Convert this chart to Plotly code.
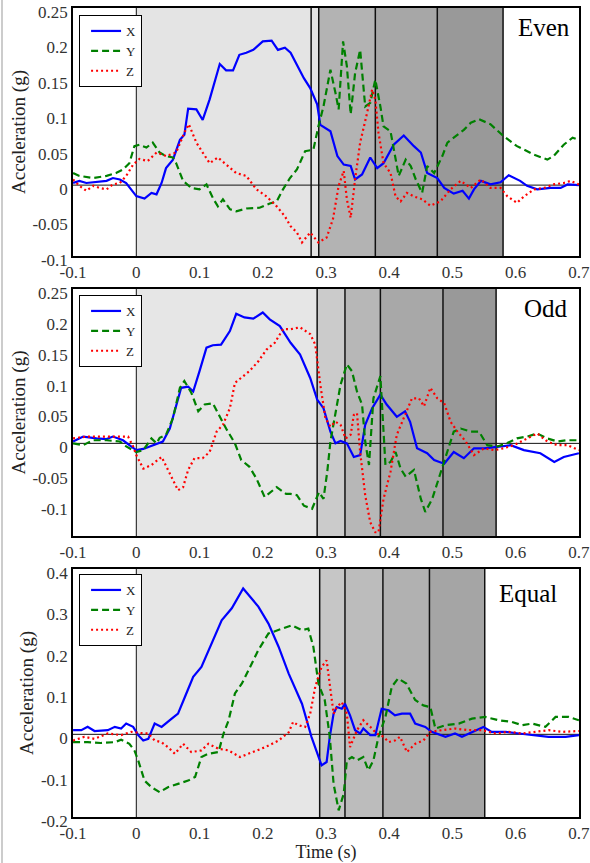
import plotly.graph_objects as go

# ---------------- data ----------------
# Panel "Even"
even_x_t = [-0.1,-0.09,-0.079,-0.063,-0.047,-0.037,-0.026,-0.016,-0.008,0,0.013,0.024,0.032,0.04,0.047,0.058,0.069,0.076,0.082,0.095,0.105,0.116,0.132,0.142,0.153,0.163,0.174,0.185,0.2,0.214,0.224,0.235,0.244,0.254,0.265,0.275,0.286,0.291,0.307,0.318,0.328,0.339,0.346,0.357,0.37,0.381,0.391,0.407,0.423,0.439,0.45,0.46,0.476,0.487,0.502,0.516,0.526,0.534,0.545,0.56,0.576,0.589,0.607,0.618,0.634,0.655,0.671,0.682,0.7]
even_x_v = [0.003,0.006,0.003,0.004,0.006,0.010,0.008,0.003,-0.006,-0.0155,-0.019,-0.011,-0.013,0.003,0.024,0.036,0.064,0.071,0.108,0.107,0.092,0.121,0.171,0.162,0.162,0.184,0.187,0.191,0.203,0.204,0.191,0.194,0.187,0.170,0.151,0.137,0.114,0.085,0.076,0.041,0.029,0.027,0.008,0.015,0.039,0.024,0.031,0.057,0.070,0.055,0.046,0.017,0.010,-0.004,-0.012,-0.008,-0.019,-0.006,0.006,0.001,0.004,0.014,0.006,-0.001,-0.006,-0.004,-0.004,0.001,0.0]
even_y_t = [-0.1,-0.09,-0.068,-0.047,-0.032,-0.021,-0.011,-0.003,0.005,0.016,0.026,0.037,0.047,0.058,0.063,0.074,0.087,0.1,0.111,0.121,0.129,0.137,0.148,0.158,0.174,0.195,0.211,0.222,0.232,0.243,0.254,0.267,0.28,0.288,0.296,0.307,0.315,0.32,0.327,0.333,0.339,0.346,0.354,0.362,0.37,0.378,0.386,0.391,0.402,0.407,0.415,0.426,0.434,0.442,0.452,0.46,0.471,0.484,0.492,0.502,0.518,0.529,0.542,0.56,0.581,0.602,0.629,0.65,0.66,0.676,0.69,0.7]
even_y_v = [0.017,0.013,0.010,0.013,0.017,0.022,0.031,0.055,0.057,0.053,0.060,0.046,0.041,0.039,0.031,0.006,-0.004,-0.006,0.001,-0.018,-0.030,-0.020,-0.034,-0.037,-0.033,-0.032,-0.026,-0.023,-0.006,0.010,0.022,0.048,0.050,0.083,0.111,0.163,0.130,0.107,0.203,0.168,0.100,0.158,0.191,0.111,0.116,0.149,0.111,0.083,0.076,0.050,0.013,0.036,0.027,0.008,-0.011,0.027,0.017,0.041,0.060,0.067,0.078,0.088,0.093,0.086,0.069,0.055,0.043,0.036,0.041,0.057,0.067,0.064]
even_z_t = [-0.1,-0.09,-0.079,-0.068,-0.058,-0.047,-0.037,-0.026,-0.016,-0.005,0.005,0.018,0.032,0.047,0.063,0.076,0.083,0.095,0.105,0.116,0.129,0.142,0.158,0.174,0.19,0.206,0.222,0.235,0.244,0.254,0.262,0.275,0.288,0.301,0.311,0.32,0.328,0.333,0.339,0.346,0.354,0.365,0.373,0.378,0.383,0.391,0.402,0.41,0.418,0.428,0.439,0.452,0.465,0.481,0.497,0.513,0.529,0.545,0.56,0.576,0.587,0.602,0.613,0.629,0.645,0.66,0.676,0.687,0.7]
even_z_v = [0.008,-0.001,-0.008,-0.001,-0.004,-0.006,0.001,0.003,0.013,0.029,0.037,0.034,0.046,0.041,0.046,0.074,0.086,0.060,0.046,0.031,0.039,0.029,0.017,0.013,-0.006,-0.016,-0.030,-0.044,-0.058,-0.067,-0.081,-0.067,-0.081,-0.074,-0.048,-0.001,0.020,-0.020,-0.046,0.008,0.060,0.102,0.135,0.121,0.074,0.031,0.017,-0.016,-0.023,-0.011,-0.016,-0.020,-0.029,-0.023,-0.006,0.006,-0.004,0.008,-0.004,-0.004,-0.016,-0.025,-0.016,-0.006,-0.004,0.001,0.003,0.006,0.001]

# Panel "Odd"
odd_x_t = [-0.1,-0.084,-0.063,-0.047,-0.037,-0.021,-0.011,0,0.011,0.026,0.042,0.053,0.063,0.071,0.082,0.09,0.1,0.111,0.121,0.134,0.148,0.158,0.171,0.185,0.2,0.211,0.227,0.237,0.244,0.259,0.275,0.286,0.296,0.307,0.315,0.323,0.333,0.344,0.354,0.362,0.373,0.386,0.396,0.412,0.425,0.433,0.444,0.46,0.471,0.487,0.502,0.518,0.534,0.55,0.571,0.592,0.613,0.639,0.661,0.676,0.7]
odd_x_v = [0.003,0.011,0.008,0.007,0.011,0.005,-0.003,-0.011,-0.009,-0.003,0.003,0.024,0.063,0.090,0.092,0.084,0.117,0.155,0.159,0.160,0.182,0.210,0.204,0.202,0.212,0.201,0.190,0.174,0.163,0.144,0.106,0.071,0.057,0.019,0.0,0.004,0.0,-0.022,-0.019,0.030,0.057,0.079,0.063,0.043,0.052,0.035,-0.008,-0.016,-0.027,-0.033,-0.014,-0.024,-0.008,-0.008,-0.005,-0.003,-0.011,-0.016,-0.030,-0.022,-0.016]
odd_y_t = [-0.1,-0.084,-0.069,-0.047,-0.026,-0.016,0,0.011,0.024,0.032,0.037,0.047,0.058,0.069,0.076,0.087,0.098,0.108,0.121,0.132,0.142,0.156,0.166,0.179,0.19,0.203,0.222,0.237,0.244,0.254,0.265,0.278,0.289,0.296,0.302,0.307,0.315,0.323,0.333,0.341,0.349,0.357,0.362,0.368,0.375,0.386,0.394,0.402,0.41,0.418,0.426,0.439,0.45,0.457,0.468,0.478,0.489,0.502,0.513,0.529,0.542,0.555,0.571,0.586,0.602,0.618,0.634,0.65,0.666,0.681,0.7]
odd_y_v = [0.0,-0.003,0.005,0.005,0.003,-0.005,-0.014,-0.011,0.008,0.0,0.009,0.014,0.041,0.090,0.101,0.082,0.052,0.063,0.065,0.043,0.024,0.0,-0.027,-0.038,-0.057,-0.087,-0.071,-0.082,-0.082,-0.084,-0.101,-0.106,-0.079,-0.090,-0.046,0.003,0.052,0.095,0.128,0.117,0.084,0.063,0.003,-0.035,0.073,0.109,-0.035,-0.030,-0.014,-0.041,-0.054,-0.043,-0.090,-0.111,-0.090,-0.057,-0.024,0.019,0.024,0.019,0.019,-0.003,-0.005,0.0,0.008,0.011,0.016,0.008,0.003,0.005,0.005]
odd_z_t = [-0.1,-0.079,-0.058,-0.037,-0.013,-0.005,0,0.011,0.024,0.04,0.053,0.066,0.074,0.082,0.092,0.105,0.116,0.127,0.137,0.148,0.156,0.166,0.179,0.193,0.206,0.219,0.232,0.244,0.259,0.275,0.283,0.291,0.299,0.307,0.315,0.323,0.331,0.339,0.344,0.349,0.354,0.362,0.37,0.378,0.383,0.391,0.402,0.412,0.425,0.436,0.447,0.455,0.465,0.476,0.487,0.497,0.508,0.521,0.534,0.55,0.566,0.581,0.597,0.613,0.634,0.65,0.666,0.682,0.7]
odd_z_v = [0.008,0.011,0.011,0.011,0.011,-0.005,-0.019,-0.041,-0.035,-0.022,-0.049,-0.076,-0.071,-0.043,-0.024,-0.024,-0.014,0.019,0.030,0.057,0.098,0.106,0.117,0.133,0.152,0.163,0.185,0.185,0.188,0.177,0.160,0.095,0.041,0.027,0.035,0.030,0.008,0.014,0.046,0.049,-0.014,-0.084,-0.128,-0.144,-0.144,-0.090,-0.046,0.014,0.046,0.073,0.073,0.060,0.090,0.073,0.065,0.035,0.019,0.003,-0.019,-0.008,-0.011,-0.008,-0.003,0.005,0.016,0.003,-0.003,-0.003,-0.011]

# Panel "Equal"
equal_x_t = [-0.1,-0.087,-0.077,-0.066,-0.045,-0.034,-0.024,-0.016,-0.005,0.003,0.011,0.019,0.029,0.04,0.056,0.066,0.077,0.09,0.103,0.119,0.135,0.151,0.161,0.169,0.18,0.193,0.209,0.225,0.241,0.262,0.277,0.288,0.293,0.301,0.306,0.312,0.317,0.325,0.33,0.338,0.346,0.354,0.359,0.37,0.378,0.388,0.399,0.409,0.42,0.433,0.441,0.457,0.467,0.489,0.504,0.515,0.531,0.549,0.562,0.584,0.605,0.627,0.652,0.679,0.7]
equal_x_v = [0.010,0.010,0.018,0.008,0.010,0.018,0.014,0.026,0.018,-0.002,-0.015,-0.011,0.026,0.018,0.038,0.050,0.091,0.139,0.163,0.220,0.276,0.305,0.333,0.353,0.333,0.309,0.268,0.212,0.147,0.074,-0.006,-0.055,-0.075,-0.067,-0.006,0.050,0.066,0.062,0.074,0.046,0.010,0.002,0.014,-0.002,-0.002,0.062,0.058,0.046,0.050,0.050,0.026,0.018,0.006,-0.006,0.002,-0.006,0.006,0.018,0.006,0.006,0.002,-0.002,-0.006,-0.006,-0.002]
equal_y_t = [-0.1,-0.077,-0.056,-0.034,-0.024,-0.011,-0.003,0.003,0.013,0.024,0.037,0.05,0.066,0.082,0.093,0.103,0.114,0.13,0.138,0.146,0.156,0.167,0.18,0.193,0.209,0.225,0.246,0.262,0.272,0.28,0.288,0.298,0.306,0.312,0.32,0.328,0.333,0.341,0.349,0.359,0.367,0.375,0.383,0.394,0.404,0.414,0.427,0.441,0.454,0.465,0.473,0.489,0.51,0.531,0.552,0.573,0.594,0.61,0.626,0.647,0.663,0.684,0.7]
equal_y_v = [-0.019,-0.019,-0.021,-0.019,-0.013,-0.023,-0.039,-0.063,-0.112,-0.128,-0.140,-0.128,-0.120,-0.112,-0.103,-0.055,-0.047,-0.043,0.002,0.034,0.099,0.123,0.163,0.204,0.244,0.252,0.264,0.252,0.256,0.212,0.123,0.083,-0.006,-0.120,-0.184,-0.144,-0.063,-0.055,-0.063,-0.055,-0.087,-0.063,-0.006,0.042,0.115,0.135,0.123,0.083,0.070,0.066,0.014,0.022,0.026,0.038,0.042,0.034,0.030,0.022,0.026,0.018,0.042,0.042,0.034]
equal_z_t = [-0.1,-0.082,-0.066,-0.045,-0.024,-0.008,0.008,0.019,0.029,0.04,0.05,0.061,0.074,0.087,0.103,0.114,0.13,0.146,0.164,0.183,0.204,0.225,0.241,0.248,0.256,0.267,0.275,0.283,0.293,0.301,0.306,0.312,0.317,0.325,0.333,0.338,0.349,0.359,0.37,0.38,0.391,0.399,0.409,0.417,0.428,0.441,0.454,0.465,0.483,0.504,0.525,0.547,0.568,0.589,0.61,0.631,0.652,0.674,0.7]
equal_z_v = [-0.015,-0.006,-0.011,0.002,-0.002,0.006,0.003,0.002,-0.015,-0.019,-0.031,-0.047,-0.023,-0.043,-0.039,-0.023,-0.035,-0.039,-0.055,-0.043,-0.031,-0.015,0.005,0.030,0.022,0.018,0.050,0.115,0.163,0.179,0.115,0.050,0.066,0.078,0.050,-0.031,0.010,0.034,0.018,0.002,-0.006,-0.019,-0.015,-0.006,-0.043,-0.023,-0.015,0.006,0.010,0.014,0.010,0.010,0.002,0.006,0.002,0.006,0.010,0.006,0.008]

# Phase boundaries (s) and shading for each panel
even_bounds = [0, 0.2765, 0.2885, 0.378, 0.476, 0.58]
even_fills = ["#e4e4e4", "#e4e4e4", "#b3b3b3", "#a7a7a7", "#999999"]
odd_bounds = [0, 0.286, 0.33, 0.386, 0.485, 0.569]
odd_fills = ["#e6e6e6", "#cbcbcb", "#b7b7b7", "#a8a8a8", "#999999"]
equal_bounds = [0, 0.29, 0.33, 0.39, 0.4636, 0.551]
equal_fills = ["#e6e6e6", "#c6c6c6", "#bcbcbc", "#b1b1b1", "#a5a5a5"]

x_ticks = [-0.1, 0, 0.1, 0.2, 0.3, 0.4, 0.5, 0.6, 0.7]
x_ticktext = ["-0.1", "0", "0.1", "0.2", "0.3", "0.4", "0.5", "0.6", "0.7"]
even_yticks = [-0.1, -0.05, 0, 0.05, 0.1, 0.15, 0.2, 0.25]
even_yticktext = ["-0.1", "-0.05", "0", "0.05", "0.1", "0.15", "0.2", "0.25"]
odd_yticks = [-0.1, -0.05, 0, 0.05, 0.1, 0.15, 0.2, 0.25]
odd_yticktext = ["-0.1", "-0.05", "0", "0.05", "0.1", "0.15", "0.2", "0.25"]
equal_yticks = [-0.2, -0.1, 0, 0.1, 0.2, 0.3, 0.4]
equal_yticktext = ["-0.2", "-0.1", "0", "0.1", "0.2", "0.3", "0.4"]

# ---------------- figure ----------------
W, H = 590, 863
ML, MR, MT, MB = 73, 11, 8, 46
PH = H - MT - MB
SERIF = "Liberation Serif"
EPS = 1e-4

def ydom(top_px, bot_px):
    return [(H - MB - bot_px) / PH, (H - MB - top_px) / PH]

panels = [
    dict(name="Even", dom=ydom(8, 256), rng=[-0.1, 0.25], yt=even_yticks, ytt=even_yticktext,
         bounds=even_bounds, fills=even_fills, label_x=0.986, label_y=0.92, leg_top=15,
         X=(even_x_t, even_x_v), Y=(even_y_t, even_y_v), Z=(even_z_t, even_z_v)),
    dict(name="Odd", dom=ydom(289, 536), rng=[-0.15, 0.25], yt=odd_yticks, ytt=odd_yticktext,
         bounds=odd_bounds, fills=odd_fills, label_x=0.982, label_y=0.92, leg_top=295,
         X=(odd_x_t, odd_x_v), Y=(odd_y_t, odd_y_v), Z=(odd_z_t, odd_z_v)),
    dict(name="Equal", dom=ydom(569, 817), rng=[-0.2, 0.4], yt=equal_yticks, ytt=equal_yticktext,
         bounds=equal_bounds, fills=equal_fills, label_x=0.961, label_y=0.9, leg_top=574,
         X=(equal_x_t, equal_x_v), Y=(equal_y_t, equal_y_v), Z=(equal_z_t, equal_z_v)),
]

styles = {
    "X": dict(color="#0000ff", width=2.2, dash="solid"),
    "Y": dict(color="#008000", width=2.2, dash="7px,4px"),
    "Z": dict(color="#ff0000", width=2.2, dash="2px,3px"),
}

fig = go.Figure()
shapes = []
annotations = []
layout = dict(
    template="none",
    width=W, height=H,
    margin=dict(l=ML, r=MR, t=MT, b=MB, autoexpand=False),
    paper_bgcolor="white", plot_bgcolor="white",
    font=dict(family=SERIF, size=16, color="#222"),
    showlegend=True,
)

TICKFONT = dict(family=SERIF, size=17, color="#333")
TITLEFONT = dict(family=SERIF, size=19, color="#222")

for i, p in enumerate(panels, start=1):
    xa = "x" if i == 1 else f"x{i}"
    ya = "y" if i == 1 else f"y{i}"
    leg = "legend" if i == 1 else f"legend{i}"
    for key in ["X", "Y", "Z"]:
        t, v = p[key]
        fig.add_trace(go.Scatter(x=t, y=v, mode="lines", name=key, xaxis=xa, yaxis=ya,
                                 legend=leg, line=styles[key]))
    # shaded phases
    b = p["bounds"]
    for k in range(len(b) - 1):
        shapes.append(dict(type="rect", xref=xa, yref=f"{ya} domain", x0=b[k], x1=b[k + 1],
                           y0=0, y1=1, fillcolor=p["fills"][k], line=dict(width=0), layer="below"))
    for k, bx in enumerate(b):
        shapes.append(dict(type="line", xref=xa, yref=f"{ya} domain", x0=bx, x1=bx, y0=0, y1=1,
                           line=dict(color="#111", width=1 if k == 0 else 1.5), layer="below"))
    shapes.append(dict(type="line", xref=f"{xa} domain", yref=ya, x0=0, x1=1, y0=0, y1=0,
                       line=dict(color="#111", width=1), layer="below"))

    xaxis = dict(domain=[0, 1], range=[-0.1 - EPS, 0.7 + EPS], anchor=ya, tickvals=x_ticks,
                 ticktext=x_ticktext, automargin=False, ticklabeloverflow="allow",
                 showgrid=False, zeroline=False, showline=True, mirror=True, linecolor="black",
                 linewidth=1.5, ticks="", tickfont=TICKFONT)
    yaxis = dict(domain=p["dom"], range=[p["rng"][0] - EPS, p["rng"][1] + EPS], anchor=xa,
                 tickvals=p["yt"], ticktext=p["ytt"], automargin=False, ticklabeloverflow="allow",
                 ticklabelshift=4,
                 showgrid=False, zeroline=False, showline=True, mirror=True, linecolor="black",
                 linewidth=1.5, ticks="", tickfont=TICKFONT,
                 title=dict(text="Acceleration (g)", font=TITLEFONT, standoff=2))
    if i == 3:
        xaxis["title"] = dict(text="Time (s)", font=dict(family=SERIF, size=18, color="#222"),
                              standoff=4)
    layout["xaxis" if i == 1 else f"xaxis{i}"] = xaxis
    layout["yaxis" if i == 1 else f"yaxis{i}"] = yaxis

    layout[leg] = dict(x=0.012, y=(H - MB - p["leg_top"]) / PH, xanchor="left", yanchor="top",
                       bgcolor="white", bordercolor="black", borderwidth=1,
                       font=dict(family=SERIF, size=13, color="#222"),
                       tracegroupgap=0, itemwidth=30, indentation=6, entrywidth=70)

    annotations.append(dict(text=p["name"], xref=f"{xa} domain", yref=f"{ya} domain",
                            x=p["label_x"], y=p["label_y"], xanchor="right", yanchor="middle",
                            showarrow=False, font=dict(family=SERIF, size=25, color="black")))

# thin grey border at the left edge of the figure
shapes.append(dict(type="line", xref="paper", yref="paper", x0=(2 - ML) / (W - ML - MR),
                   x1=(2 - ML) / (W - ML - MR), y0=-MB / PH, y1=(H - MB) / PH,
                   line=dict(color="#cccccc", width=2)))

layout["shapes"] = shapes
layout["annotations"] = annotations
fig.update_layout(**layout)
fig.write_html("out.html")
